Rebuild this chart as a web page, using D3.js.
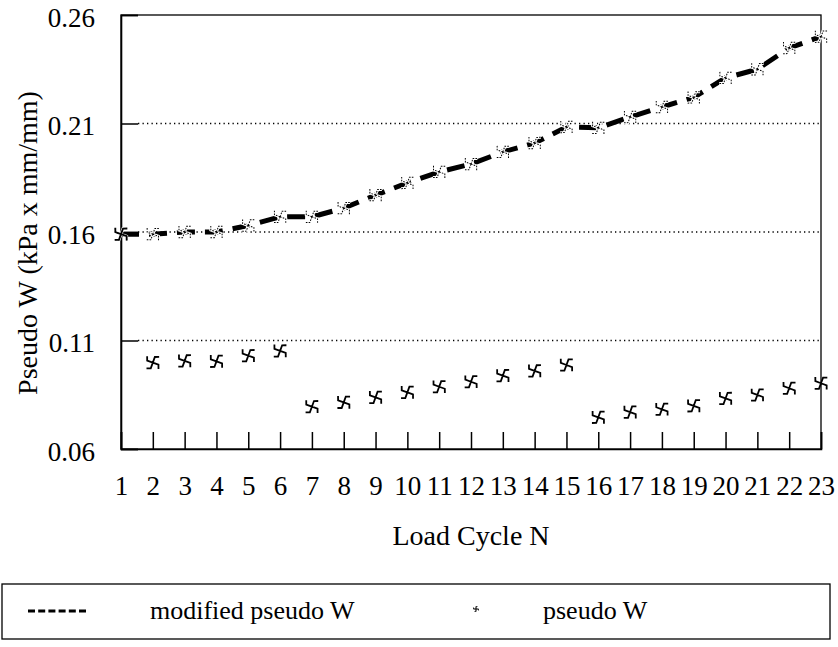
<!DOCTYPE html>
<html>
<head>
<meta charset="utf-8">
<script src="https://cdn.jsdelivr.net/npm/d3@7"></script>
<style>
  body { margin: 0; background: #fff; }
  svg, svg text { font-family: "Liberation Serif", "Times New Roman", Times, "DejaVu Serif", "Noto Serif", serif; }
</style>
</head>
<body>
<div id="chart"></div>
<script>
// load cycles 1..23
const cycles = d3.range(1, 24);
const modifiedPseudoW = [
  0.159, 0.159, 0.160, 0.160, 0.163, 0.167, 0.167, 0.171, 0.177, 0.1826,
  0.1877, 0.1913, 0.1969, 0.201, 0.2084, 0.2080, 0.213, 0.2176, 0.222, 0.231,
  0.235, 0.2448, 0.250
];
const pseudoW = [
  0.159, 0.0998, 0.1006, 0.1004, 0.1030, 0.1052, 0.0795, 0.0815, 0.0838, 0.0861,
  0.0887, 0.0910, 0.0938, 0.0960, 0.0987, 0.0746, 0.0770, 0.0783, 0.0799, 0.0833,
  0.0849, 0.0880, 0.0903
];
const yTicks = [0.06, 0.11, 0.16, 0.21, 0.26];
const legendLabels = ['modified pseudo W', 'pseudo W'];

const width = 838;
const height = 647;
const plotL = 121, plotR = 821, plotT = 15, plotB = 449;
const tickLen = 17;

const svg = d3.select('#chart')
  .append('svg')
  .attr('width', width)
  .attr('height', height);

const x = d3.scaleLinear().domain([1, 23]).range([plotL, plotR]);
const y = d3.scaleLinear().domain([0.06, 0.26]).range([plotB, plotT]);

// dotted gridlines for inner y ticks
svg.append('g')
  .selectAll('line')
  .data(yTicks.slice(1, -1))
  .enter()
  .append('line')
  .attr('x1', plotL + tickLen)
  .attr('x2', plotR)
  .attr('y1', (d) => y(d))
  .attr('y2', (d) => y(d))
  .attr('stroke', '#000')
  .attr('stroke-width', 1.3)
  .attr('stroke-dasharray', '1.3,3.2');

// plot frame
svg.append('rect')
  .attr('x', plotL)
  .attr('y', plotT)
  .attr('width', plotR - plotL)
  .attr('height', plotB - plotT)
  .attr('fill', 'none')
  .attr('stroke', '#000')
  .attr('stroke-width', 1.3);

// y axis: ticks point inward, labels on the left
const yAxis = d3.axisLeft(y)
  .tickValues(yTicks)
  .tickSize(-tickLen)
  .tickPadding(tickLen + 9)
  .tickFormat(d3.format('.2f'));
const gy = svg.append('g')
  .attr('transform', `translate(${plotL},0)`)
  .call(yAxis)
  .attr('font-family', null);
gy.select('.domain').attr('stroke-width', 1.6);
gy.selectAll('.tick line').attr('stroke-width', 1.5);
gy.selectAll('.tick text')
  .attr('font-size', 27)
  .attr('fill', '#000')
  .attr('dy', '0.42em');

// x axis: ticks point up into the plot
const xAxis = d3.axisBottom(x)
  .tickValues(cycles)
  .tickSize(-tickLen)
  .tickPadding(tickLen + 10)
  .tickFormat(d3.format('d'));
const gx = svg.append('g')
  .attr('transform', `translate(0,${plotB})`)
  .call(xAxis)
  .attr('font-family', null);
gx.select('.domain').attr('stroke-width', 1.6);
gx.selectAll('.tick line').attr('stroke-width', 1.5);
gx.selectAll('.tick text')
  .attr('font-size', 27)
  .attr('fill', '#000');

// axis titles
svg.append('text')
  .attr('x', (plotL + plotR) / 2)
  .attr('y', 545)
  .attr('text-anchor', 'middle')
  .attr('font-size', 28)
  .text('Load Cycle N');

svg.append('text')
  .attr('transform', 'translate(37,243) rotate(-90)')
  .attr('text-anchor', 'middle')
  .attr('font-size', 28)
  .text('Pseudo W (kPa x mm/mm)');

// pinwheel marker: four arms, each bent at the tip
const markerPath = [0, 90, 180, 270].map((a) => {
  const r = a * Math.PI / 180;
  const pts = [[0, 0], [0, -6], [4, -7.5]].map(([px, py]) =>
    [px * Math.cos(r) - py * Math.sin(r), px * Math.sin(r) + py * Math.cos(r)]);
  return 'M' + pts.map((p) => p.join(',')).join('L');
}).join('');

// modified pseudo W dashed line
const line = d3.line()
  .x((d, i) => x(cycles[i]))
  .y((d) => y(d));

svg.append('path')
  .datum(modifiedPseudoW)
  .attr('d', line)
  .attr('fill', 'none')
  .attr('stroke', '#000')
  .attr('stroke-width', 5)
  .attr('stroke-dasharray', '18,10');

const modMarks = svg.append('g')
  .selectAll('g')
  .data(modifiedPseudoW)
  .enter()
  .append('g')
  .attr('transform', (d, i) => `translate(${x(cycles[i])},${y(d)}) rotate(20)`);
modMarks.append('path')
  .attr('d', markerPath)
  .attr('fill', 'none')
  .attr('stroke', '#fff')
  .attr('stroke-width', 3);
modMarks.append('path')
  .attr('d', markerPath)
  .attr('fill', 'none')
  .attr('stroke', '#000')
  .attr('stroke-width', 1)
  .attr('stroke-dasharray', '1.6,1.2');

// pseudo W markers
svg.append('g')
  .selectAll('path')
  .data(pseudoW)
  .enter()
  .append('path')
  .attr('transform', (d, i) => `translate(${x(cycles[i])},${y(d)}) rotate(20)`)
  .attr('d', markerPath)
  .attr('fill', 'none')
  .attr('stroke', '#000')
  .attr('stroke-width', 1.8);

// legend
const legend = svg.append('g');
legend.append('rect')
  .attr('x', 2)
  .attr('y', 584)
  .attr('width', 828)
  .attr('height', 55)
  .attr('fill', 'none')
  .attr('stroke', '#000')
  .attr('stroke-width', 1.3);
legend.append('line')
  .attr('x1', 28)
  .attr('x2', 88)
  .attr('y1', 611)
  .attr('y2', 611)
  .attr('stroke', '#000')
  .attr('stroke-width', 3.2)
  .attr('stroke-dasharray', '7,3.2');
legend.append('text')
  .attr('x', 150)
  .attr('y', 619)
  .attr('font-size', 26)
  .text(legendLabels[0]);
legend.append('path')
  .attr('transform', 'translate(476,609) scale(0.35)')
  .attr('d', markerPath)
  .attr('fill', 'none')
  .attr('stroke', '#000')
  .attr('stroke-width', 3);
legend.append('text')
  .attr('x', 543)
  .attr('y', 619)
  .attr('font-size', 26)
  .text(legendLabels[1]);
</script>
</body>
</html>
